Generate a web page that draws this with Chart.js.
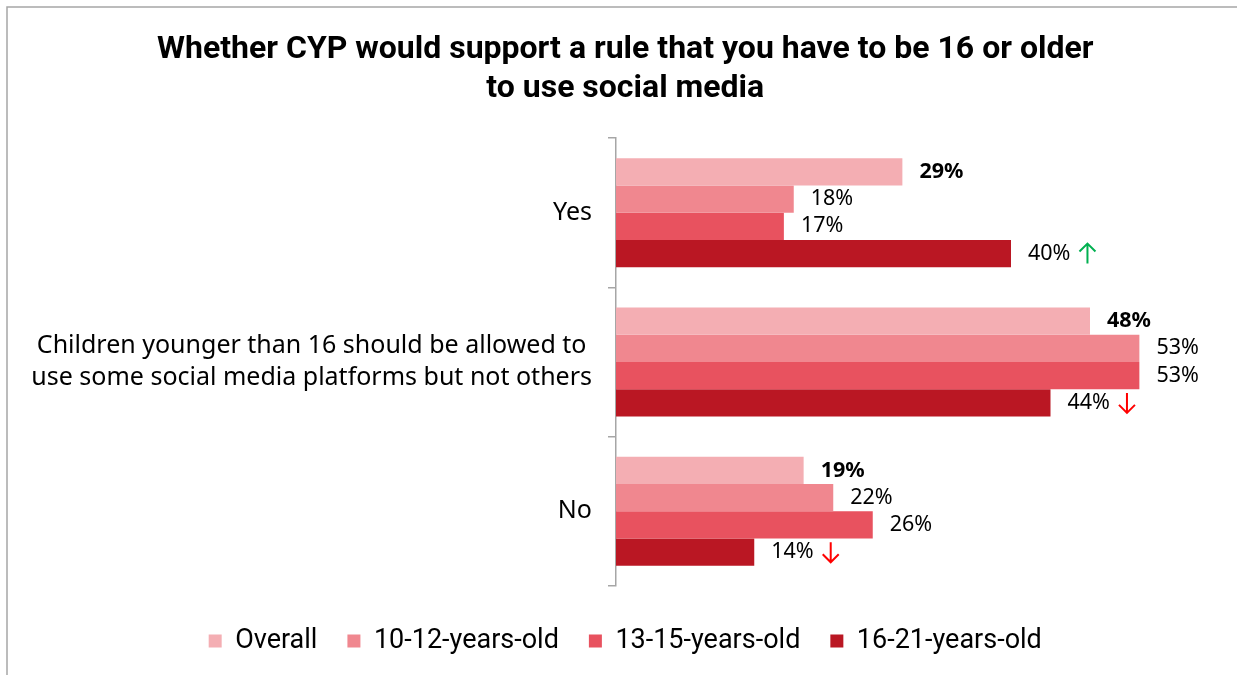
<!DOCTYPE html>
<html>
<head>
<meta charset="utf-8">
<title>Support for a 16+ social media rule</title>
<script src="https://cdn.jsdelivr.net/npm/chart.js@4.4.1/dist/chart.umd.min.js"></script>
<style>
  html, body { margin: 0; padding: 0; background: #ffffff; }
  #wrap { position: relative; width: 1237px; height: 675px; }
</style>
</head>
<body>
<div id="wrap"><canvas id="chart" width="1237" height="675"></canvas></div>
<script>
// Answer categories (multi-line labels are arrays of lines)
const categories = [
  'Yes',
  ['Children younger than 16 should be allowed to', 'use some social media platforms but not others'],
  'No'
];

// Share of respondents (%) per group
const overall   = [29, 48, 19];
const age10to12 = [18, 53, 22];
const age13to15 = [17, 53, 26];
const age16to21 = [40, 44, 14];

const seriesNames = ['Overall', '10-12-years-old', '13-15-years-old', '16-21-years-old'];

// Significant differences for the 16-21 group: 'up', 'down' or '' per category
const age16to21Change = ['up', 'down', 'down'];

const palette = ['#f4aeb3', '#f0878f', '#e8525f', '#ba1723'];

const LEFT_PAD = 42;
const AXIS_X = 616;

const datasets = [overall, age10to12, age13to15, age16to21].map((values, i) => ({
  label: seriesNames[i],
  data: values,
  backgroundColor: palette[i],
  borderWidth: 0,
  categoryPercentage: 0.73,
  barPercentage: 1.0,
  changes: i === 3 ? age16to21Change : null,
  boldLabels: i === 0
}));

// Light frame along the top and left edge
const framePlugin = {
  id: 'frame',
  beforeDraw(chart) {
    const ctx = chart.ctx;
    ctx.save();
    ctx.strokeStyle = '#a6a6a6';
    ctx.lineWidth = 1.5;
    ctx.beginPath();
    ctx.moveTo(7, 675);
    ctx.lineTo(7, 7);
    ctx.lineTo(1237, 7);
    ctx.stroke();
    ctx.restore();
  }
};

// Category labels: each block right-aligned to the axis, lines centred within the block
const categoryLabelPlugin = {
  id: 'categoryLabels',
  afterDraw(chart) {
    const ctx = chart.ctx;
    const yScale = chart.scales.y;
    const rightEdge = yScale.right - 24;
    const lineH = 32;
    ctx.save();
    ctx.font = '25px "Noto Sans"';
    ctx.fillStyle = '#000000';
    ctx.textBaseline = 'middle';
    ctx.textAlign = 'center';
    categories.forEach((cat, i) => {
      const lines = Array.isArray(cat) ? cat : [cat];
      const maxW = Math.max(...lines.map(l => ctx.measureText(l).width));
      const cx = rightEdge - maxW / 2;
      const cy = yScale.getPixelForValue(i);
      const y0 = cy - (lines.length - 1) * lineH / 2;
      lines.forEach((l, k) => ctx.fillText(l, cx, y0 + k * lineH));
    });
    ctx.restore();
  }
};

// Thin arrow: shaft with an open chevron head
function drawArrow(ctx, cx, cy, up, color) {
  const half = 10, wing = 8;
  const dir = up ? -1 : 1;
  const tipY = cy + dir * half;
  ctx.save();
  ctx.strokeStyle = color;
  ctx.lineWidth = 2;
  ctx.lineCap = 'butt';
  ctx.beginPath();
  ctx.moveTo(cx, cy - dir * half);
  ctx.lineTo(cx, tipY);
  ctx.moveTo(cx - wing, tipY - dir * wing);
  ctx.lineTo(cx, tipY);
  ctx.lineTo(cx + wing, tipY - dir * wing);
  ctx.stroke();
  ctx.restore();
}

// Value labels at the end of each bar, with change arrows where flagged
const valueLabelPlugin = {
  id: 'valueLabels',
  afterDatasetsDraw(chart) {
    const ctx = chart.ctx;
    ctx.save();
    ctx.textBaseline = 'middle';
    ctx.textAlign = 'left';
    chart.data.datasets.forEach((ds, di) => {
      const meta = chart.getDatasetMeta(di);
      meta.data.forEach((bar, i) => {
        const text = ds.data[i] + '%';
        ctx.font = (ds.boldLabels ? 'bold ' : '') + '21.5px "Noto Sans"';
        ctx.fillStyle = '#000000';
        const x = bar.x + 17;
        ctx.fillText(text, x, bar.y);
        const change = ds.changes ? ds.changes[i] : '';
        if (change) {
          const w = ctx.measureText(text).width;
          drawArrow(ctx, x + w + 17, bar.y, change === 'up',
                    change === 'up' ? '#00b050' : '#ff0000');
        }
      });
    });
    ctx.restore();
  }
};

new Chart(document.getElementById('chart'), {
  type: 'bar',
  data: { labels: categories, datasets },
  plugins: [framePlugin, categoryLabelPlugin, valueLabelPlugin],
  options: {
    indexAxis: 'y',
    responsive: false,
    animation: false,
    devicePixelRatio: 1,
    layout: { padding: { left: LEFT_PAD, right: 28.5, top: 0, bottom: 10.5 } },
    scales: {
      x: {
        display: true, min: 0, max: 60,
        ticks: { display: false },
        grid: { display: false },
        border: { display: false },
        afterFit(scale) { scale.height = 11.5; }
      },
      y: {
        type: 'category',
        ticks: { display: false },
        grid: {
          offset: true,
          drawOnChartArea: false,
          drawTicks: true,
          tickLength: 8,
          color: '#a6a6a6',
          lineWidth: 1.5
        },
        border: { display: true, color: '#a6a6a6', width: 1.5 },
        afterFit(scale) { scale.width = AXIS_X - LEFT_PAD; }
      }
    },
    plugins: {
      title: {
        display: true,
        text: ['Whether CYP would support a rule that you have to be 16 or older', 'to use social media'],
        color: '#000000',
        font: { family: 'Roboto', weight: 'bold', size: 32, lineHeight: 39 / 32 },
        padding: { top: 30, bottom: 30 }
      },
      legend: {
        display: true,
        position: 'bottom',
        labels: {
          boxWidth: 13,
          boxHeight: 13,
          padding: 30,
          color: '#000000',
          font: { family: 'Roboto', size: 27 }
        }
      },
      tooltip: { enabled: false }
    }
  }
});
</script>
</body>
</html>
